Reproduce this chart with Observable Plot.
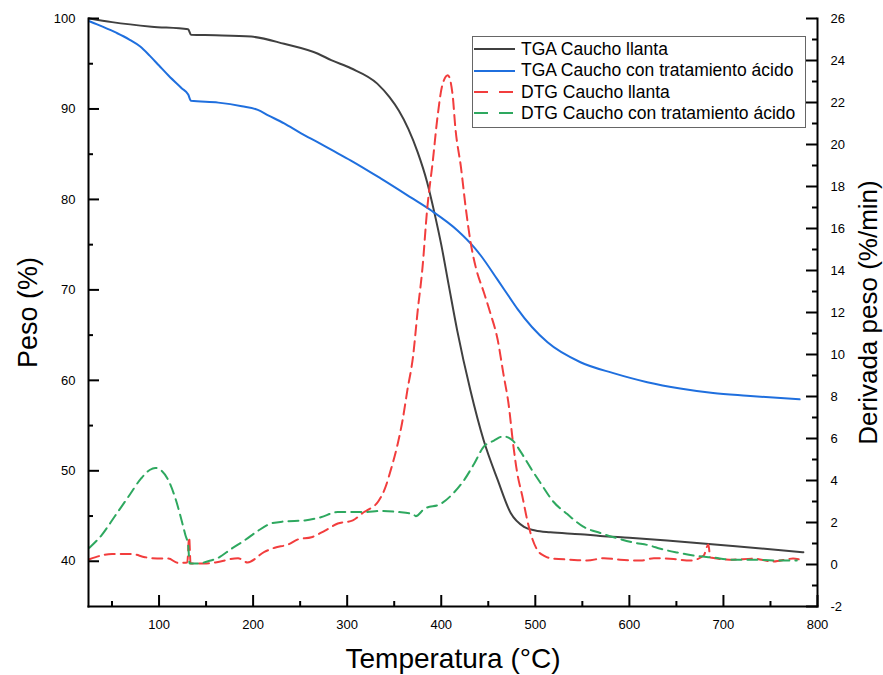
<!DOCTYPE html>
<html>
<head>
<meta charset="utf-8">
<script src="https://cdn.jsdelivr.net/npm/d3@7"></script>
<script src="https://cdn.jsdelivr.net/npm/@observablehq/plot@0.6"></script>
<style>
  body { margin: 0; background: #fff; font-family: "Liberation Sans", Arial, sans-serif; }
  #wrap { position: relative; width: 883px; height: 675px; }
  #legend { position: absolute; left: 472px; top: 36px; width: 334px; height: 92px;
            border: 1px solid #666; box-sizing: border-box; background: #fff; }
  .row { position: absolute; left: 0; height: 20px; display: flex; align-items: center; }
  .row svg { display: block; }
  .row span { margin-left: 5px; font-size: 17.5px; color: #000; white-space: nowrap; }
</style>
</head>
<body>
<div id="wrap"></div>
<script>
// ---------- data ----------
const seriesNames = ["TGA Caucho llanta", "TGA Caucho con tratamiento ácido", "DTG Caucho llanta", "DTG Caucho con tratamiento ácido"];
const seriesColors = ["#404040", "#1f6fde", "#f23d3d", "#2ea85f"];

// TGA Caucho llanta: temperature (°C) / weight (%)
const tgaLlantaT = [26, 50, 92, 131, 134, 160, 198, 233, 269, 283, 304, 332, 345, 355, 365, 375, 385, 393, 400, 408, 417, 431, 445, 460, 474, 488, 500, 516, 548, 569, 600, 640, 710, 785];
const tgaLlantaW = [100.0, 99.6, 99.1, 98.8, 98.2, 98.15, 98.0, 97.2, 96.1, 95.4, 94.5, 92.8, 91.3, 89.8, 87.8, 85.2, 81.9, 78.4, 75.0, 70.5, 65.5, 58.9, 53.4, 49.0, 45.3, 43.8, 43.4, 43.2, 43.0, 42.8, 42.6, 42.3, 41.7, 41.0];

// TGA Caucho con tratamiento ácido
const tgaAcidoT = [26, 40, 55, 68, 80, 90, 100, 110, 124, 131, 134, 163, 188, 205, 216, 233, 251, 269, 283, 304, 336, 368, 389, 417, 435, 442, 460, 477, 481, 513, 548, 583, 619, 654, 689, 725, 781];
const tgaAcidoW = [99.7, 99.1, 98.4, 97.7, 96.9, 95.9, 94.8, 93.7, 92.3, 91.6, 90.9, 90.7, 90.3, 89.9, 89.3, 88.4, 87.3, 86.3, 85.5, 84.3, 82.3, 80.2, 78.8, 76.6, 74.7, 73.8, 71.1, 68.5, 67.9, 64.2, 62.0, 60.8, 59.8, 59.1, 58.6, 58.3, 57.9];

// DTG Caucho llanta: temperature (°C) / derivative (%/min)
const dtgLlantaT = [26, 50, 64, 71, 85, 103, 110, 120, 130, 132, 133.5, 148, 160, 184, 194, 212, 223, 237, 248, 262, 276, 290, 306, 318, 322, 333, 340, 347, 354, 359, 364, 370, 375, 380, 385, 391, 396, 401, 407, 412, 415, 421, 426, 431, 437, 445, 452, 460, 466, 472, 476, 481, 486, 492, 497, 502, 510, 516, 537, 555, 573, 590, 612, 626, 647, 665, 679, 684, 686, 710, 731, 753, 774, 780];
const dtgLlantaD = [0.25, 0.5, 0.5, 0.5, 0.35, 0.28, 0.28, 0.08, 0.1, 1.3, 0.05, 0.05, 0.1, 0.3, 0.1, 0.6, 0.8, 0.95, 1.2, 1.3, 1.6, 1.95, 2.1, 2.5, 2.6, 3.0, 3.6, 4.6, 5.8, 6.9, 8.3, 9.9, 12.1, 14.1, 16.9, 19.2, 21.3, 22.8, 23.3, 22.4, 20.8, 18.9, 17.0, 15.4, 14.1, 13.0, 12.0, 10.7, 9.1, 7.5, 5.9, 4.3, 3.3, 2.0, 1.2, 0.7, 0.4, 0.3, 0.23, 0.19, 0.3, 0.23, 0.19, 0.3, 0.26, 0.19, 0.43, 0.95, 0.33, 0.23, 0.28, 0.14, 0.28, 0.25];

// DTG Caucho con tratamiento ácido
const dtgAcidoT = [26, 39, 53, 67, 81, 90, 96, 103, 110, 117, 124, 128, 131, 132.5, 145, 148, 163, 177, 191, 205, 219, 233, 255, 272, 290, 301, 318, 336, 354, 370, 373, 382, 400, 413, 424, 435, 445, 456, 466, 476, 484, 495, 506, 519, 534, 551, 569, 587, 604, 622, 633, 651, 668, 689, 710, 731, 753, 778];
const dtgAcidoD = [0.8, 1.4, 2.3, 3.2, 4.1, 4.5, 4.6, 4.45, 4.0, 3.2, 2.1, 1.4, 0.9, 0.05, 0.05, 0.1, 0.32, 0.75, 1.15, 1.6, 1.95, 2.05, 2.1, 2.25, 2.5, 2.5, 2.5, 2.55, 2.5, 2.4, 2.3, 2.65, 2.9, 3.4, 4.0, 4.8, 5.6, 5.9, 6.1, 5.9, 5.4, 4.6, 3.85, 3.0, 2.4, 1.8, 1.5, 1.25, 1.05, 0.9, 0.75, 0.57, 0.43, 0.33, 0.23, 0.23, 0.19, 0.19];

// ticks
const xMajorTicks = [100, 200, 300, 400, 500, 600, 700, 800];
const xMinorTicks = [50, 150, 250, 350, 450, 550, 650, 750];
const yLeftMajorTicks = [40, 50, 60, 70, 80, 90, 100];
const yLeftMinorTicks = [45, 55, 65, 75, 85, 95];
const yRightMajorTicks = [-2, 0, 2, 4, 6, 8, 10, 12, 14, 16, 18, 20, 22, 24, 26];
const yRightMinorTicks = [-1, 1, 3, 5, 7, 9, 11, 13, 15, 17, 19, 21, 23, 25];

const xDomain = [25, 800];
const yLeftDomain = [35, 100];
const yRightDomain = [-2, 26];

// ---------- build ----------
const W = 883, H = 675, mT = 18, mB = 69, mL = 88, mR = 66;
const frameW = W - mL - mR, frameH = H - mT - mB;
const major = 11, minor = 5;

const toLeft = d3.scaleLinear().domain(yRightDomain).range(yLeftDomain);
const zip = (xs, ys) => xs.map((x, i) => ({x, y: ys[i]}));
const tgaLlanta = zip(tgaLlantaT, tgaLlantaW);
const tgaAcido = zip(tgaAcidoT, tgaAcidoW);
const dtgLlanta = zip(dtgLlantaT, dtgLlantaD);
const dtgAcido = zip(dtgAcidoT, dtgAcidoD);

const font = "Liberation Sans, Arial, sans-serif";
const dash = "10,6";
const tk = {stroke: "#000", strokeWidth: 2};

const chart = Plot.plot({
  width: W, height: H,
  marginTop: mT, marginBottom: mB, marginLeft: mL, marginRight: mR,
  style: {fontFamily: font, fontSize: "13px", color: "#000", background: "#fff", overflow: "visible"},
  x: {domain: xDomain},
  y: {domain: yLeftDomain},
  marks: [
    // data
    Plot.line(tgaLlanta, {x: "x", y: "y", stroke: seriesColors[0], strokeWidth: 2, curve: "monotone-x"}),
    Plot.line(tgaAcido, {x: "x", y: "y", stroke: seriesColors[1], strokeWidth: 2, curve: "monotone-x"}),
    Plot.line(dtgLlanta, {x: "x", y: d => toLeft(d.y), stroke: seriesColors[2], strokeWidth: 2, strokeDasharray: dash, curve: "monotone-x"}),
    Plot.line(dtgAcido, {x: "x", y: d => toLeft(d.y), stroke: seriesColors[3], strokeWidth: 2, strokeDasharray: dash, curve: "monotone-x"}),
    // axis lines
    Plot.frame({anchor: "left", stroke: "#000", strokeWidth: 2}),
    Plot.frame({anchor: "bottom", stroke: "#000", strokeWidth: 2}),
    Plot.frame({anchor: "right", stroke: "#000", strokeWidth: 2}),
    // inward ticks
    Plot.tickX(xMajorTicks, {x: d => d, insetTop: frameH - major, ...tk}),
    Plot.tickX(xMinorTicks, {x: d => d, insetTop: frameH - minor, ...tk}),
    Plot.tickY(yLeftMajorTicks, {y: d => d, insetRight: frameW - major, ...tk}),
    Plot.tickY(yLeftMinorTicks, {y: d => d, insetRight: frameW - minor, ...tk}),
    Plot.tickY(yRightMajorTicks, {y: d => toLeft(d), insetLeft: frameW - major, ...tk}),
    Plot.tickY(yRightMinorTicks, {y: d => toLeft(d), insetLeft: frameW - minor, ...tk}),
    // tick labels
    Plot.axisX({ticks: xMajorTicks, tickSize: 0, tickPadding: 13, label: null, fontSize: 13}),
    Plot.axisY({ticks: yLeftMajorTicks, tickSize: 0, tickPadding: 13, label: null, fontSize: 13}),
    Plot.axisY({anchor: "right", ticks: yRightMajorTicks.map(toLeft), tickSize: 0, tickPadding: 13, label: null, fontSize: 13,
                tickFormat: d => String(Math.round(toLeft.invert(d)))}),
    // axis titles
    Plot.text(["Peso (%)"], {frameAnchor: "left", dx: -60, rotate: -90, textAnchor: "middle", fontSize: 27, fill: "#000"}),
    Plot.text(["Temperatura (°C)"], {frameAnchor: "bottom", dy: 61, textAnchor: "middle", fontSize: 28, fill: "#000"}),
    Plot.text(["Derivada peso (%/min)"], {frameAnchor: "right", dx: 51, rotate: -90, textAnchor: "middle", fontSize: 26, fill: "#000"})
  ]
});

const wrap = document.getElementById("wrap");
wrap.appendChild(chart);

// legend (inside plot area, top right)
const legend = document.createElement("div");
legend.id = "legend";
const rowCenters = [49, 70.5, 92, 113];
seriesNames.forEach((name, i) => {
  const row = document.createElement("div");
  row.className = "row";
  row.style.top = (rowCenters[i] - 37 - 10) + "px";
  const dashed = i >= 2;
  row.innerHTML = `<svg width="43" height="20"><line x1="1" y1="10" x2="42" y2="10" stroke="${seriesColors[i]}" stroke-width="2" ${dashed ? 'stroke-dasharray="14,11"' : ''}/></svg><span>${name}</span>`;
  legend.appendChild(row);
});
wrap.appendChild(legend);
</script>
</body>
</html>
